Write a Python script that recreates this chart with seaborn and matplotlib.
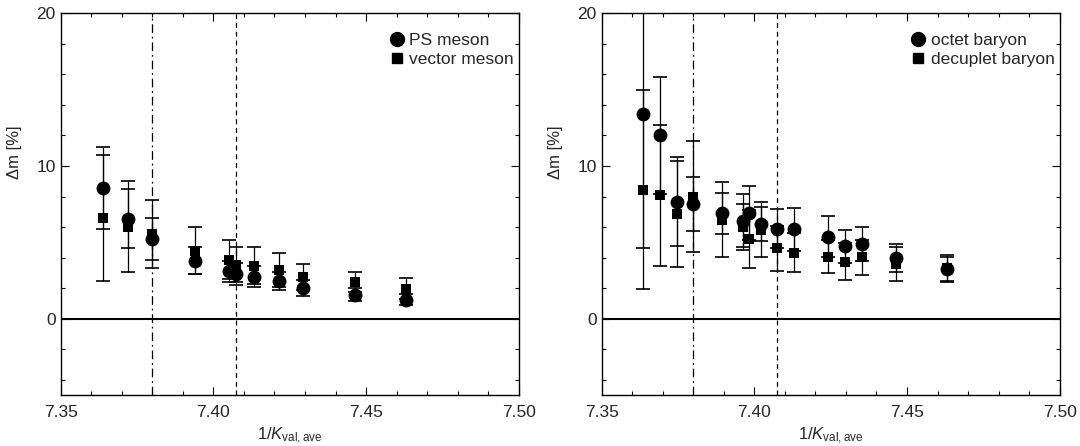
import numpy as np
import pandas as pd
import matplotlib
matplotlib.use("Agg")
import matplotlib.pyplot as plt
import seaborn as sns
from matplotlib.ticker import MultipleLocator
from matplotlib.lines import Line2D

# ---------------- data ----------------
# left panel: mesons
meson_x = [7.364, 7.372, 7.380, 7.394, 7.405, 7.4074, 7.4132, 7.4215, 7.4295, 7.4464, 7.463]
ps_y = [8.55, 6.54, 5.22, 3.80, 3.10, 2.93, 2.75, 2.45, 2.01, 1.57, 1.25]
ps_err = [2.70, 1.93, 1.36, 0.90, 0.70, 0.70, 0.70, 0.60, 0.50, 0.44, 0.35]
vec_y = [6.60, 6.03, 5.55, 4.46, 3.87, 3.54, 3.48, 3.21, 2.71, 2.38, 1.95]
vec_err = [4.10, 2.96, 2.22, 1.53, 1.30, 1.14, 1.20, 1.12, 0.85, 0.66, 0.69]

# right panel: baryons
baryon_x = [7.3636, 7.3691, 7.3746, 7.380, 7.3893, 7.3964, 7.3983, 7.4022,
            7.4075, 7.4131, 7.4242, 7.4297, 7.4353, 7.4464, 7.463]
oct_y = [13.4, 12.0, 7.67, 7.52, 6.90, 6.43, 6.95, 6.21, 5.90, 5.86, 5.38, 4.74, 4.90, 3.98, 3.26]
oct_err = [8.8, 3.85, 2.91, 1.77, 1.36, 1.75, 1.77, 1.10, 1.30, 1.40, 1.33, 1.08, 1.09, 0.92, 0.80]
dec_y = [8.46, 8.07, 6.87, 8.00, 6.49, 5.99, 5.20, 5.83, 4.60, 4.33, 4.07, 3.74, 4.02, 3.59, 3.30]
dec_err = [6.5, 4.63, 3.49, 3.66, 2.48, 1.50, 1.89, 1.80, 1.50, 1.29, 1.07, 1.20, 1.13, 1.10, 0.90]

kappa_lines = [7.380, 7.4073]
x_ticks = [7.35, 7.40, 7.45, 7.50]
y_ticks = [0, 10, 20]

# ---------------- style ----------------
sns.set_style("ticks")
plt.rcParams["font.family"] = ["Liberation Sans", "DejaVu Sans"]
plt.rcParams["mathtext.fontset"] = "custom"
plt.rcParams["mathtext.rm"] = "Liberation Sans"
plt.rcParams["mathtext.it"] = "Liberation Sans:italic"

fig = plt.figure(figsize=(10.8, 4.46), dpi=100)
ax1 = fig.add_axes([0.0562, 0.1143, 0.4241, 0.8558])
ax2 = fig.add_axes([0.5571, 0.1143, 0.4241, 0.8558])


def panel(ax, x, y1, e1, lab1, y2, e2, lab2):
    ax.axhline(0, color="black", lw=1.5, zorder=1)
    ax.axvline(kappa_lines[0], color="black", lw=0.9, ls=(0, (7, 3, 1.5, 3)), zorder=1)
    ax.axvline(kappa_lines[1], color="black", lw=0.9, ls=(0, (4, 3)), zorder=1)
    ax.errorbar(x, y2, yerr=e2, fmt="none", ecolor="black", elinewidth=0.9,
                capsize=5, capthick=1.2, zorder=2)
    ax.errorbar(x, y1, yerr=e1, fmt="none", ecolor="black", elinewidth=0.9,
                capsize=5, capthick=1.2, zorder=2)
    d1 = pd.DataFrame({"x": x, "y": y1})
    d2 = pd.DataFrame({"x": x, "y": y2})
    sns.scatterplot(data=d2, x="x", y="y", ax=ax, marker="s", s=52,
                    color="black", edgecolor="black", linewidth=0, zorder=3)
    sns.scatterplot(data=d1, x="x", y="y", ax=ax, marker="o", s=100,
                    color="black", edgecolor="black", linewidth=0, zorder=4)
    ax.set_xlim(7.35, 7.50)
    ax.set_ylim(-5, 20)
    ax.set_xticks(x_ticks)
    ax.set_xticklabels([f"{t:.2f}" for t in x_ticks])
    ax.set_yticks(y_ticks)
    ax.xaxis.set_minor_locator(MultipleLocator(0.01))
    ax.yaxis.set_minor_locator(MultipleLocator(2))
    ax.tick_params(which="both", direction="in", top=True, right=True,
                   labelsize=12.5, width=0.8, color="black")
    ax.tick_params(axis="x", which="major", pad=7)
    ax.tick_params(which="major", length=6)
    ax.tick_params(which="minor", length=3)
    for s in ax.spines.values():
        s.set_linewidth(1.0)
        s.set_color("black")
    ax.set_xlabel(r"1/$K_{\mathrm{val,ave}}$", fontsize=12)
    ax.xaxis.set_label_coords(0.5, -0.107)
    ax.xaxis.label.set_va("center")
    ax.set_ylabel(r"Δm [%]", fontsize=12)
    ax.yaxis.set_label_coords(-0.1, 0.637)
    ax.yaxis.label.set_va("center")
    handles = [
        Line2D([], [], ls="none", marker="o", ms=10, color="black", mec="black"),
        Line2D([], [], ls="none", marker="s", ms=7, color="black", mec="black"),
    ]
    ax.legend(handles, [lab1, lab2], loc="upper right", frameon=False,
              fontsize=12.5, handletextpad=0.1, handlelength=1.2,
              borderaxespad=0.0, borderpad=0.3, labelspacing=0.25,
              bbox_to_anchor=(1.0, 0.963))


panel(ax1, meson_x, ps_y, ps_err, "PS meson", vec_y, vec_err, "vector meson")
panel(ax2, baryon_x, oct_y, oct_err, "octet baryon", dec_y, dec_err, "decuplet baryon")

fig.savefig("out.png", dpi=100)
